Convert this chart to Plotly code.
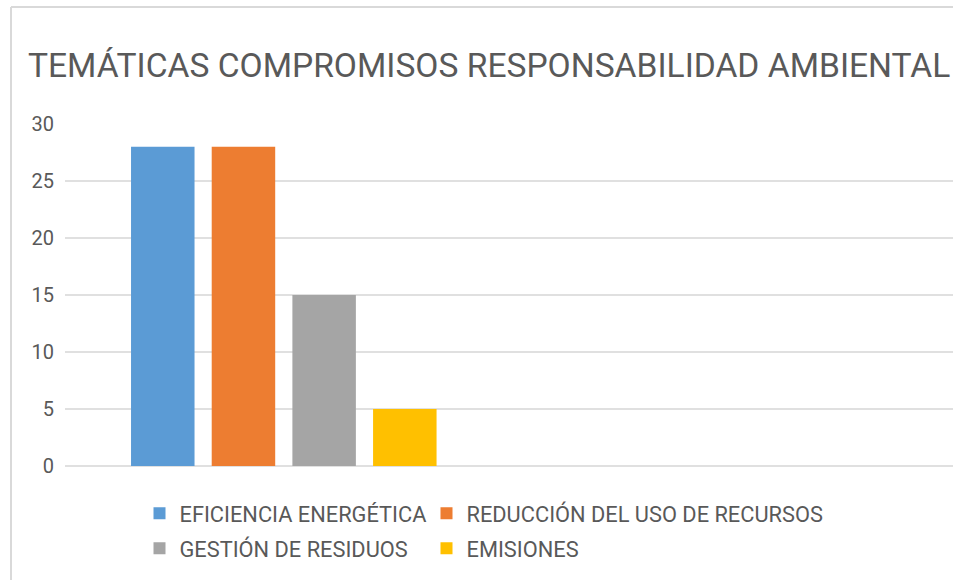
import plotly.graph_objects as go

# ---- data ----
categories = ["Compromisos"]
series_names = ["EFICIENCIA ENERGÉTICA", "REDUCCIÓN DEL USO DE RECURSOS",
                "GESTIÓN DE RESIDUOS", "EMISIONES"]
series_values = [[28], [28], [15], [5]]
series_colors = ["#5b9bd5", "#ed7d31", "#a5a5a5", "#ffc000"]
series_legend = ["legend", "legend", "legend2", "legend2"]
y_ticks = [0, 5, 10, 15, 20, 25, 30]
title_text = "TEMÁTICAS COMPROMISOS RESPONSABILIDAD AMBIENTAL"

W, H = 953, 580
L, R, T, B = 65, 0, 124, 114
PW = W - L - R
PH = H - T - B

legend_widths = [242, 420, 242, 420]

fig = go.Figure()
for name, vals, col, lg, lw in zip(series_names, series_values, series_colors,
                                   series_legend, legend_widths):
    fig.add_trace(go.Bar(x=categories, y=vals, name=name, marker_color=col,
                         marker_line_width=0, legend=lg, legendwidth=lw))

text_col = "#595959"
grid_col = "#e0e0e0"
leg_font = dict(family="Roboto", size=21.8, color=text_col)
leg_x = (139.5 - L) / PW

fig.update_layout(
    width=W, height=H,
    margin=dict(l=L, r=R, t=T, b=B, pad=0),
    paper_bgcolor="white", plot_bgcolor="white",
    barmode="group", bargap=0.3, bargroupgap=0.213,
    font=dict(family="Roboto", color=text_col),
    title=dict(text=title_text, xref="container", yref="container",
               x=28 / W, xanchor="left", y=1 - 65 / H, yanchor="middle",
               font=dict(family="Roboto", size=33.6, color=text_col)),
    xaxis=dict(range=[-0.4746, 1.4516], showticklabels=False, showgrid=False,
               zeroline=False, showline=False, ticks=""),
    yaxis=dict(range=[0, 30], tickvals=y_ticks, showgrid=True, gridcolor=grid_col,
               gridwidth=2, zeroline=True, zerolinecolor=grid_col, zerolinewidth=2,
               showline=False, ticks="", ticklabelstandoff=10,
               tickfont=dict(family="Roboto", size=20, color=text_col)),
    legend=dict(orientation="h", x=leg_x, xanchor="left",
                y=-(492.5 - (H - B)) / PH, yanchor="top",
                font=leg_font, bgcolor="rgba(0,0,0,0)", traceorder="normal"),
    legend2=dict(orientation="h", x=leg_x, xanchor="left",
                 y=-(527.5 - (H - B)) / PH, yanchor="top",
                 font=leg_font, bgcolor="rgba(0,0,0,0)", traceorder="normal"),
    showlegend=True,
)

# chart border (top and left edges visible in the crop)
fig.add_shape(type="line", xref="paper", yref="paper",
              x0=(11 - L) / PW, x1=(W + 5 - L) / PW,
              y0=(H - 7 - B) / PH, y1=(H - 7 - B) / PH,
              line=dict(color="#d9d9d9", width=2))
fig.add_shape(type="line", xref="paper", yref="paper",
              x0=(11 - L) / PW, x1=(11 - L) / PW,
              y0=(H - 7 - B) / PH, y1=-(B + 5) / PH,
              line=dict(color="#d9d9d9", width=2))

fig.write_html(
    "out.html",
    config={"displayModeBar": False},
    post_script="document.body.style.margin='0';document.body.style.overflow='hidden';",
)
